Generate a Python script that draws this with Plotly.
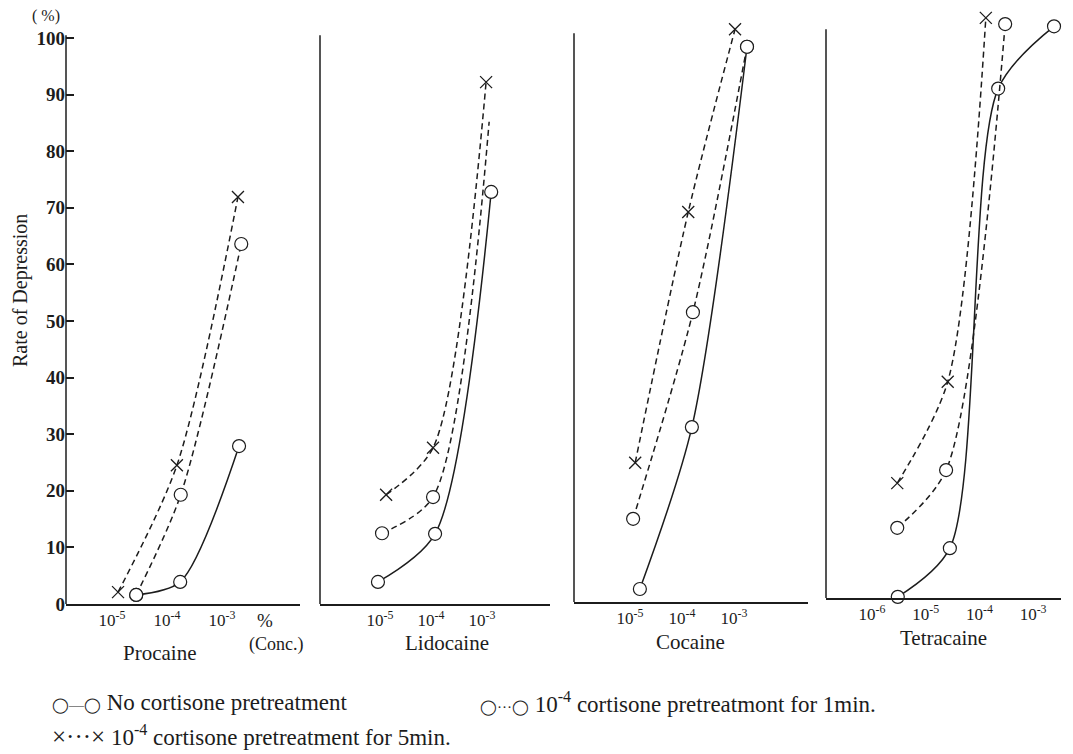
import plotly.graph_objects as go

# The page body has an 8px margin, so the figure is drawn 8px in from the window edge.
OFF = 8
W, H = 1073 - OFF, 754 - OFF

# ---------------- data (x = log10 concentration %, y = rate of depression %) ----------------
panel_names = ["Procaine", "Lidocaine", "Cocaine", "Tetracaine"]

procaine_none_x = [-4.56, -3.76, -2.69]
procaine_none_y = [1.6, 3.9, 27.9]
procaine_1min_x = [-4.56, -3.75, -2.65]
procaine_1min_y = [1.6, 19.3, 63.6]
procaine_5min_x = [-4.89, -3.82, -2.71]
procaine_5min_y = [2.1, 24.5, 71.9]

lidocaine_none_x = [-5.04, -3.92, -2.82]
lidocaine_none_y = [3.9, 12.4, 72.8]
lidocaine_1min_x = [-4.96, -3.96, -2.86]
lidocaine_1min_y = [12.5, 18.9, 85.2]
lidocaine_1min_marked = [True, True, False]
lidocaine_5min_x = [-4.88, -3.96, -2.92]
lidocaine_5min_y = [19.3, 27.6, 92.2]

cocaine_none_x = [-4.81, -3.81, -2.75]
cocaine_none_y = [2.3, 30.9, 98.1]
cocaine_1min_x = [-4.94, -3.79, -2.75]
cocaine_1min_y = [14.7, 51.2, 98.1]
cocaine_5min_x = [-4.90, -3.88, -2.98]
cocaine_5min_y = [24.6, 68.9, 101.2]

tetracaine_none_x = [-5.52, -4.55, -3.65, -2.61]
tetracaine_none_y = [0.2, 8.8, 90.0, 101.0]
tetracaine_1min_x = [-5.53, -4.62, -3.52]
tetracaine_1min_y = [12.4, 22.6, 101.4]
tetracaine_5min_x = [-5.53, -4.59, -3.88]
tetracaine_5min_y = [20.3, 38.2, 102.5]

x_tickvals = [[-5, -4, -3], [-5, -4, -3], [-5, -4, -3], [-6, -5, -4, -3]]
x_ticktext = [["10<sup>-5</sup>", "10<sup>-4</sup>", "10<sup>-3</sup>"],
              ["10<sup>-5</sup>", "10<sup>-4</sup>", "10<sup>-3</sup>"],
              ["10<sup>-5</sup>", "10<sup>-4</sup>", "10<sup>-3</sup>"],
              ["10<sup>-6</sup>", "10<sup>-5</sup>", "10<sup>-4</sup>", "10<sup>-3</sup>"]]
y_tickvals = [0, 10, 20, 30, 40, 50, 60, 70, 80, 90, 100]
y_ticktext = ["0", "10", "20", "30", "40", "50", "60", "70", "80", "90", "100"]

legend_none = "No cortisone pretreatment"
legend_1min = "10<sup>-4</sup> cortisone pretreatmont for 1min."
legend_5min = "10<sup>-4</sup> cortisone pretreatment for 5min."

# ---------------- layout geometry (window pixels) ----------------
x_dom_px = [(66, 300), (320, 550), (574, 808), (826, 1061)]
x_ranges = [(-5.836, -1.582), (-6.176, -1.667), (-6.077, -1.577), (-6.857, -2.480)]
base_px = [604, 604, 602, 598]
Y_MAX = 104
PX_PER_UNIT = 5.66

INK = "#1c1c1c"
SERIF = "Liberation Serif"


def fx(px):
    return (px - OFF) / W


def fy(py):
    return 1 - (py - OFF) / H


series = [
    [(procaine_none_x, procaine_none_y, "none", None),
     (procaine_1min_x, procaine_1min_y, "1min", None),
     (procaine_5min_x, procaine_5min_y, "5min", None)],
    [(lidocaine_none_x, lidocaine_none_y, "none", None),
     (lidocaine_1min_x, lidocaine_1min_y, "1min", lidocaine_1min_marked),
     (lidocaine_5min_x, lidocaine_5min_y, "5min", None)],
    [(cocaine_none_x, cocaine_none_y, "none", None),
     (cocaine_1min_x, cocaine_1min_y, "1min", None),
     (cocaine_5min_x, cocaine_5min_y, "5min", None)],
    [(tetracaine_none_x, tetracaine_none_y, "none", None),
     (tetracaine_1min_x, tetracaine_1min_y, "1min", None),
     (tetracaine_5min_x, tetracaine_5min_y, "5min", None)],
]

fig = go.Figure()
layout = dict(
    width=W, height=H, template="none", showlegend=False,
    margin=dict(l=0, r=0, t=0, b=0),
    paper_bgcolor="white", plot_bgcolor="rgba(0,0,0,0)",
    font=dict(family=SERIF, color=INK),
)
shapes = []
annotations = []

for i in range(4):
    n = "" if i == 0 else str(i + 1)
    xa, ya = "x" + n, "y" + n
    for (xs, ys, kind, marked) in series[i]:
        if kind == "5min":
            marker = dict(symbol="x-thin", size=12, line=dict(color=INK, width=1.3), color=INK)
            line = dict(color=INK, width=1.5, dash="6px,4px", shape="spline", smoothing=0.8)
        else:
            marker = dict(symbol="circle", size=13, color="white", line=dict(color=INK, width=1.2))
            if marked is not None:
                marker["opacity"] = [1 if m else 0 for m in marked]
            line = dict(color=INK, width=1.5, dash="solid" if kind == "none" else "6px,4px",
                        shape="spline", smoothing=0.8)
        fig.add_trace(go.Scatter(x=xs, y=ys, mode="lines+markers", xaxis=xa, yaxis=ya,
                                 line=line, marker=marker, cliponaxis=False, hoverinfo="skip"))
    x0, x1 = x_dom_px[i]
    b = base_px[i]
    t = b - Y_MAX * PX_PER_UNIT
    layout["xaxis" + n] = dict(
        domain=[fx(x0), fx(x1)], range=list(x_ranges[i]), anchor=ya,
        showline=True, linecolor=INK, linewidth=1.5, ticks="", showgrid=False, zeroline=False,
        tickvals=x_tickvals[i], ticktext=x_ticktext[i],
        tickfont=dict(family=SERIF, size=17, color=INK),
        automargin=False,
    )
    ydict = dict(
        domain=[fy(b), fy(t)], range=[0, Y_MAX], anchor=xa,
        showline=False, showgrid=False, zeroline=False, automargin=False,
    )
    if i == 0:
        ydict.update(tickvals=y_tickvals, ticktext=y_ticktext, ticks="inside", ticklen=8,
                     tickwidth=1.5, tickcolor=INK,
                     tickfont=dict(family=SERIF, size=19, color=INK, weight="bold"))
    else:
        ydict.update(showticklabels=False, ticks="")
    layout["yaxis" + n] = ydict
    shapes.append(dict(type="line", xref=xa + " domain", yref=ya, x0=0, x1=0, y0=0, y1=100.5,
                       line=dict(color=INK, width=1.5)))

# panel names and extra labels
name_pos = [(159, 653), (447, 643), (690, 642), (943, 638)]
for name, (px, py) in zip(panel_names, name_pos):
    annotations.append(dict(text=name, x=fx(px), y=fy(py), xref="paper", yref="paper",
                            showarrow=False, font=dict(family=SERIF, size=21, color=INK),
                            xanchor="center", yanchor="middle"))

sym_o = '<span style="font-size:15px">◯—◯</span>'
sym_od = '<span style="font-size:15px">◯···◯</span>'
sym_x = '<span style="font-size:25px">×···×</span>'
annotations += [
    dict(text="%", x=fx(265), y=fy(620), xref="paper", yref="paper", showarrow=False,
         font=dict(family=SERIF, size=19, color=INK), xanchor="center", yanchor="middle"),
    dict(text="(Conc.)", x=fx(276), y=fy(644), xref="paper", yref="paper", showarrow=False,
         font=dict(family=SERIF, size=18, color=INK), xanchor="center", yanchor="middle"),
    dict(text="( %)", x=fx(46), y=fy(16), xref="paper", yref="paper", showarrow=False,
         font=dict(family=SERIF, size=16, color=INK), xanchor="center", yanchor="middle"),
    dict(text="Rate of Depression", x=fx(21), y=fy(291), xref="paper", yref="paper",
         showarrow=False, textangle=-90, font=dict(family=SERIF, size=20, color=INK),
         xanchor="center", yanchor="middle"),
    dict(text=sym_o + " " + legend_none, x=fx(50), y=fy(702), xref="paper", yref="paper",
         showarrow=False, font=dict(family=SERIF, size=23, color=INK), xanchor="left", yanchor="middle"),
    dict(text=sym_od + " " + legend_1min, x=fx(478), y=fy(702), xref="paper", yref="paper",
         showarrow=False, font=dict(family=SERIF, size=23, color=INK), xanchor="left", yanchor="middle"),
    dict(text=sym_x + " " + legend_5min, x=fx(50), y=fy(735), xref="paper", yref="paper",
         showarrow=False, font=dict(family=SERIF, size=23, color=INK), xanchor="left", yanchor="middle"),
]
layout["shapes"] = shapes
layout["annotations"] = annotations
fig.update_layout(**layout)
fig.write_html("out.html")
